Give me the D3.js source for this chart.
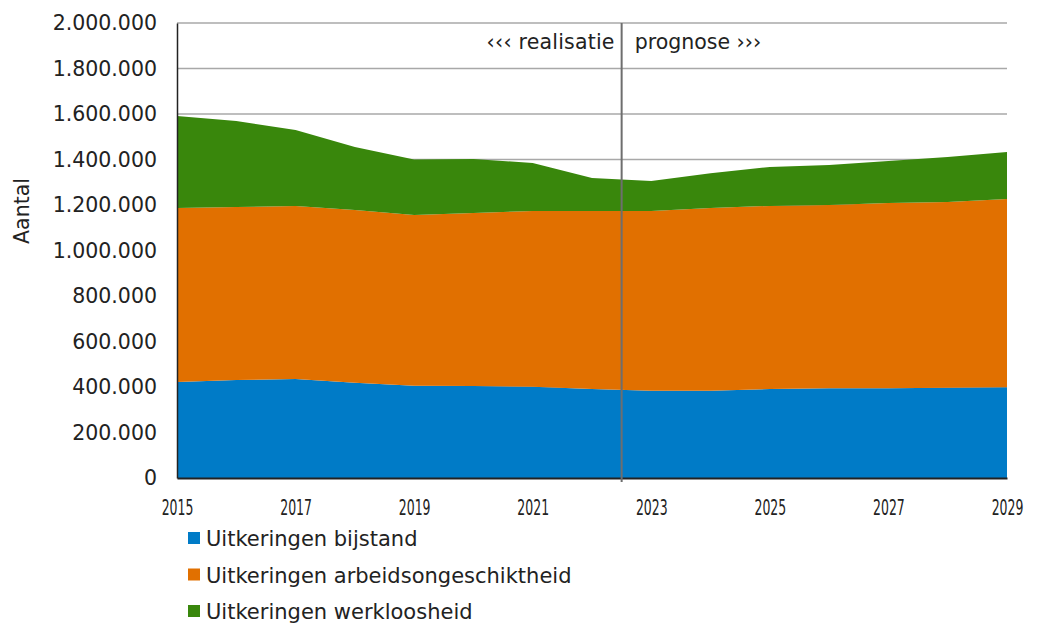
<!DOCTYPE html>
<html>
<head>
<meta charset="utf-8">
<script src="https://cdn.jsdelivr.net/npm/d3@7"></script>
<style>
  body { margin: 0; background: #fff; }
  text { font-family: "DejaVu Sans", Verdana, sans-serif; fill: #222; }
</style>
</head>
<body>
<script>
// jaren en reeksen (aantallen uitkeringen)
var years = [2015, 2016, 2017, 2018, 2019, 2020, 2021, 2022, 2023, 2024, 2025, 2026, 2027, 2028, 2029];
var bijstand = [422000, 431000, 435000, 419000, 406000, 404000, 401000, 391000, 384000, 384000, 391000, 394000, 394000, 397000, 399000];
var arbeidsongeschiktheid = [765000, 760000, 761000, 759000, 750000, 761000, 773000, 783000, 790000, 803000, 805000, 806000, 815000, 816000, 827000];
var werkloosheid = [404000, 378000, 334000, 277000, 244000, 237000, 211000, 145000, 131000, 153000, 171000, 176000, 184000, 198000, 207000];
var seriesNames = ["Uitkeringen bijstand", "Uitkeringen arbeidsongeschiktheid", "Uitkeringen werkloosheid"];
var colors = ["#007bc7", "#e17000", "#39870c"];
var yTicks = [0, 200000, 400000, 600000, 800000, 1000000, 1200000, 1400000, 1600000, 1800000, 2000000];
var xTicks = [2015, 2017, 2019, 2021, 2023, 2025, 2027, 2029];
var splitYear = 2022.5;

var width = 1040, height = 623;
var margin = {top: 23, right: 33, bottom: 145, left: 177};

var svg = d3.select("body").append("svg")
    .attr("width", width)
    .attr("height", height);

var x = d3.scaleLinear().domain([2015, 2029]).range([margin.left, width - margin.right]);
var y = d3.scaleLinear().domain([0, 2000000]).range([height - margin.bottom, margin.top]);

var nl = d3.formatLocale({decimal: ",", thousands: ".", grouping: [3], currency: ["€", ""]});
var fmt = nl.format(",d");

// table for the stack
var table = years.map(function(yr, i) {
    return {year: yr, s0: bijstand[i], s1: arbeidsongeschiktheid[i], s2: werkloosheid[i]};
});
var stacked = d3.stack().keys(["s0", "s1", "s2"])(table);

// gridlines
svg.append("g")
    .selectAll("line")
    .data(yTicks.filter(function(d) { return d > 0; }))
    .enter().append("line")
    .attr("x1", x.range()[0])
    .attr("x2", x.range()[1])
    .attr("y1", function(d) { return y(d); })
    .attr("y2", function(d) { return y(d); })
    .attr("stroke", "#a8a8a8")
    .attr("stroke-width", 1.6);

// areas
var area = d3.area()
    .x(function(d) { return x(d.data.year); })
    .y0(function(d) { return y(d[0]); })
    .y1(function(d) { return y(d[1]); });

svg.append("g")
    .selectAll("path")
    .data(stacked)
    .enter().append("path")
    .attr("d", area)
    .attr("fill", function(d, i) { return colors[i]; });

// y axis
var yAxis = svg.append("g")
    .attr("transform", "translate(" + margin.left + ",0)")
    .call(d3.axisLeft(y).tickValues(yTicks).tickFormat(fmt).tickSize(0).tickPadding(20));
yAxis.select(".domain").attr("stroke", "#222").attr("stroke-width", 1.5);
yAxis.selectAll("text")
    .style("font-size", "20.5px")
    .attr("fill", "#222");

// x axis (smalle cijfers zoals in het origineel)
var xAxis = svg.append("g")
    .attr("transform", "translate(0," + y(0) + ")")
    .call(d3.axisBottom(x).tickValues(xTicks).tickFormat(d3.format("d")).tickSize(0).tickPadding(0));
xAxis.select(".domain").attr("stroke", "#222").attr("stroke-width", 2);
xAxis.selectAll("text")
    .style("font-size", "21.5px")
    .attr("fill", "#222")
    .attr("y", 0)
    .attr("dy", 0)
    .attr("transform", "translate(0,37) scale(0.58,1)");

// split line realisatie / prognose
svg.append("line")
    .attr("x1", x(splitYear)).attr("x2", x(splitYear))
    .attr("y1", y(2000000)).attr("y2", y(0) + 4)
    .attr("stroke", "#6e6e6e")
    .attr("stroke-width", 2);

svg.append("text")
    .attr("x", x(splitYear) - 7)
    .attr("y", 49)
    .attr("text-anchor", "end")
    .style("font-size", "20.5px")
    .style("letter-spacing", "0.2px")
    .text("‹‹‹ realisatie");

svg.append("text")
    .attr("x", x(splitYear) + 13)
    .attr("y", 49)
    .style("font-size", "20.5px")
    .text("prognose ›››");

// y axis title
svg.append("text")
    .attr("transform", "translate(29,211) rotate(-90)")
    .attr("text-anchor", "middle")
    .style("font-size", "20.5px")
    .text("Aantal");

// legend
var legend = svg.append("g")
    .selectAll("g")
    .data(seriesNames)
    .enter().append("g")
    .attr("transform", function(d, i) { return "translate(188," + (546 + i * 36.5) + ")"; });

legend.append("rect")
    .attr("x", 0).attr("y", -14)
    .attr("width", 12).attr("height", 12)
    .attr("fill", function(d, i) { return colors[i]; });

legend.append("text")
    .attr("x", 18)
    .attr("y", 0)
    .style("font-size", "21px")
    .text(function(d) { return d; });
</script>
</body>
</html>
